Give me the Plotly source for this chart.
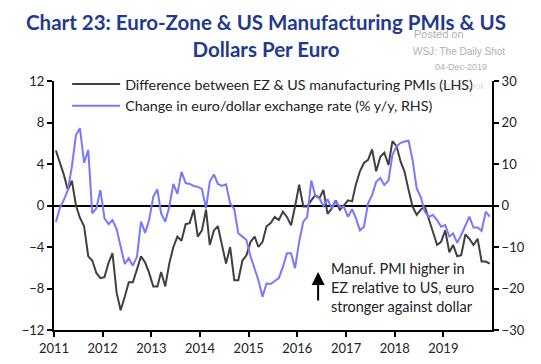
import plotly.graph_objects as go
import pandas as pd

dates = pd.date_range("2010-12-15", periods=108, freq="MS") + pd.Timedelta(days=14)
dates = [d.strftime("%Y-%m-%d") for d in dates]

pmi_diff = [5.3, 4.2, 3.0, 1.5, 2.4, 0.0, -1.2, -2.0, -4.9, -5.3, -6.5, -7.0, -6.9, -5.5, -4.6, -8.4,
            -10.1, -8.8, -7.4, -7.4, -6.2, -4.9, -5.5, -6.5, -7.8, -7.8, -6.4, -7.8, -5.6, -4.0, -3.0, -3.4,
            -1.8, -1.7, -0.4, -3.0, -2.4, -0.4, -3.8, -2.4, -2.0, -4.0, -5.6, -4.0, -7.2, -7.2, -5.3, -4.8,
            -3.5, -3.0, -4.0, -3.5, -2.0, -1.7, -1.1, -1.4, -0.6, -1.1, -1.9, -0.1, 2.0, -0.1, -0.1, 0.5,
            1.0, 0.7, 1.5, -0.8, -0.3, 0.5, -0.4, 0.0, 0.5, 0.4, 2.0, 3.3, 4.1, 4.4, 5.4, 3.3,
            4.7, 5.1, 3.9, 6.2, 5.7, 4.2, 3.3, 1.5, -0.1, -0.9, -0.4, -0.1, -1.4, -2.7, -3.8, -3.5,
            -2.4, -4.5, -3.8, -4.9, -4.8, -2.8, -3.2, -3.8, -3.2, -5.4, -5.4, -5.6]

eurusd_yy = [-4.0, -0.5, 1.3, 3.7, 9.4, 17.0, 18.6, 10.3, 13.4, -1.9, -0.7, 3.7, -3.1, -4.5, -3.5, -5.7,
             -9.9, -14.1, -12.7, -14.5, -12.3, -3.9, -6.6, -3.5, 2.1, 3.9, -1.9, -3.9, -0.3, 5.2, 2.8, 8.1,
             5.4, 5.2, 4.7, 4.5, 4.0, -0.7, 5.7, 7.5, 5.2, 4.7, 5.1, 0.5, -0.9, -6.7, -7.5, -8.3,
             -12.3, -15.5, -18.0, -22.0, -18.8, -18.9, -18.2, -17.5, -14.8, -11.5, -11.5, -15.1, -8.7, -3.9, -2.8, 6.0,
             2.3, 1.7, -0.1, 1.5, -0.7, 0.9, -0.3, -0.3, -2.7, -0.9, -3.0, -6.0, -5.1, 0.5, 2.5, 5.7,
             6.6, 4.9, 6.0, 12.2, 14.3, 15.1, 15.4, 15.6, 11.0, 4.1, 2.1, -1.5, -2.7, -2.3, -3.5, -5.1,
             -4.7, -7.5, -6.7, -9.0, -7.1, -4.9, -2.7, -5.3, -5.3, -6.1, -1.5, -2.7]

year_ticks = ["2011-01-01", "2012-01-01", "2013-01-01", "2014-01-01", "2015-01-01",
              "2016-01-01", "2017-01-01", "2018-01-01", "2019-01-01"]
year_labels = ["2011", "2012", "2013", "2014", "2015", "2016", "2017", "2018", "2019"]

FONT = "Lato"

fig = go.Figure()
fig.add_trace(go.Scatter(x=dates, y=pmi_diff, mode="lines",
                         name="Difference between EZ & US manufacturing PMIs (LHS)",
                         line=dict(color="#404040", width=2)))
fig.add_trace(go.Scatter(x=dates, y=eurusd_yy, mode="lines", yaxis="y2",
                         name="Change in euro/dollar exchange rate (% y/y, RHS)",
                         line=dict(color="#7878ff", width=2)))

# page body has an 8px default margin, so the figure is sized to fit the window
fig.update_layout(
    width=533, height=356,
    margin=dict(l=46, r=49, t=73, b=34, autoexpand=False),
    paper_bgcolor="white", plot_bgcolor="white",
    font=dict(family=FONT, size=13, color="#222222"),
    title=dict(text="<b>Chart 23: Euro-Zone & US Manufacturing PMIs & US<br>Dollars Per Euro</b>",
               x=0.484, xanchor="center", y=0.9385, yanchor="top",
               font=dict(family=FONT, size=20.5, color="#1f3a8f")),
    showlegend=True,
    legend=dict(x=0.03, y=1.051, xanchor="left", yanchor="top", bgcolor="rgba(0,0,0,0)",
                font=dict(size=14.3, color="#222222"), tracegroupgap=0, itemwidth=48),
    xaxis=dict(range=["2011-01-01", "2020-01-01"], tickvals=year_ticks, ticktext=year_labels,
               showgrid=False, showline=True, linecolor="black", linewidth=2,
               ticks="outside", ticklen=5, tickwidth=2, tickcolor="black",
               tickfont=dict(size=13)),
    yaxis=dict(range=[-12, 12], dtick=4, tick0=0, showgrid=False, showline=True,
               linecolor="black", linewidth=2, ticks="outside", ticklen=5, tickwidth=2,
               tickcolor="black", zeroline=True, zerolinecolor="black", zerolinewidth=2,
               tickfont=dict(size=13)),
    yaxis2=dict(range=[-30, 30], dtick=10, tick0=0, overlaying="y", side="right",
                showgrid=False, showline=True, linecolor="black", linewidth=2,
                ticks="outside", ticklen=5, tickwidth=2, tickcolor="black",
                zeroline=False, tickfont=dict(size=13)),
)

fig.add_annotation(x=0.628, y=-7.9, xref="paper", yref="y", xanchor="left", yanchor="middle",
                   align="left", showarrow=False,
                   text="Manuf. PMI higher in<br>EZ relative to US, euro<br>stronger against dollar",
                   font=dict(size=14.5, color="#222222"))
fig.add_annotation(x=0.603, y=-6.4, xref="paper", yref="y", ax=0, ay=30,
                   showarrow=True, arrowhead=2, arrowsize=1.3, arrowwidth=2, arrowcolor="black", text="")

fig.add_annotation(x=0.817, y=1.189, xref="paper", yref="paper", xanchor="left", yanchor="middle",
                   showarrow=False, text="Posted on", font=dict(family="Arial", size=11, color="#b0b0b0"))
fig.add_annotation(x=0.815, y=1.12, xref="paper", yref="paper", xanchor="left", yanchor="middle",
                   showarrow=False, text="WSJ: The Daily Shot", font=dict(family="Arial", size=10, color="#b0b0b0"))
fig.add_annotation(x=0.993, y=1.056, xref="paper", yref="paper", xanchor="right", yanchor="middle",
                   showarrow=False, text="04-Dec-2019", font=dict(family="Arial", size=9, color="#b0b0b0"))
fig.add_annotation(x=0.9886, y=0.978, xref="paper", yref="paper", xanchor="right", yanchor="middle",
                   showarrow=False, text="@SoberLook", font=dict(family="Arial", size=9, color="rgba(150,150,150,0.35)"))

fig.write_html("out.html")
